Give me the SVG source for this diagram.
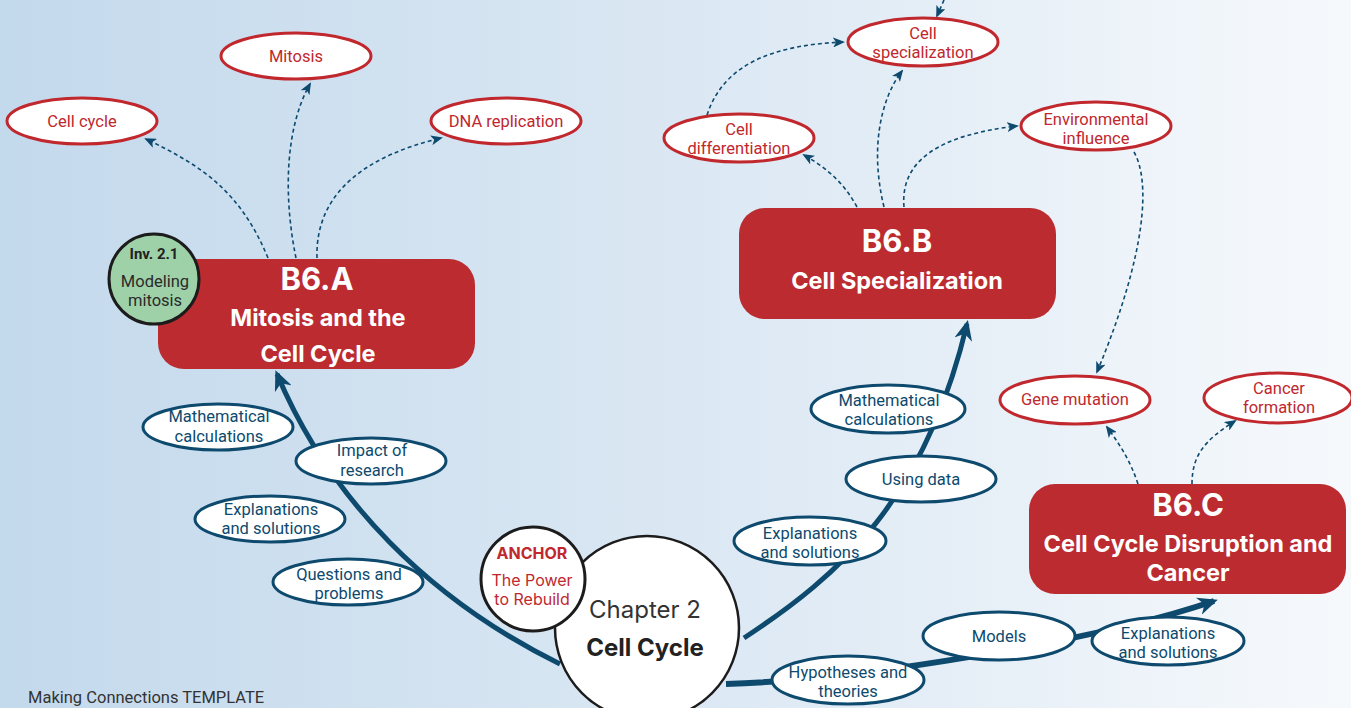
<svg xmlns="http://www.w3.org/2000/svg" width="1351" height="708" viewBox="0 0 1351 708">
  <defs>
    <linearGradient id="bg" x1="0" y1="0" x2="1" y2="0">
      <stop offset="0" stop-color="#c3d9ec"/>
      <stop offset="0.55" stop-color="#dde9f4"/>
      <stop offset="1" stop-color="#f6f9fc"/>
    </linearGradient>
    <marker id="bigHead" viewBox="0 0 20 18" refX="16" refY="9" markerWidth="20" markerHeight="18" markerUnits="userSpaceOnUse" orient="auto">
      <path d="M0,0 L20,9 L0,18 L6,9 z" fill="#0d4a6e"/>
    </marker>
    <marker id="smallHead" viewBox="0 0 12 10" refX="10" refY="5" markerWidth="12" markerHeight="10" markerUnits="userSpaceOnUse" orient="auto">
      <path d="M0,0 L12,5 L0,10 L3,5 z" fill="#0d4a6e"/>
    </marker>
    <style>
      .main { fill: none; stroke: #0d4a6e; stroke-width: 5; marker-end: url(#bigHead); }
      .dash { fill: none; stroke: #0d4a6e; stroke-width: 1.6; stroke-dasharray: 4 3; marker-end: url(#smallHead); }
      .topic { fill: #fff; stroke: #c0282e; stroke-width: 3; }
      .practice { fill: #fff; stroke: #0d4a6e; stroke-width: 3; }
      .box { fill: #bc2b30; }
      .t-red { font-family: Roboto, "Liberation Sans", sans-serif; font-size: 16.5px; fill: #c0282e; text-anchor: middle; }
      .t-blue { font-family: Roboto, "Liberation Sans", sans-serif; font-size: 16.5px; fill: #0d4a6e; text-anchor: middle; }
      .code { font-family: Inter, "Liberation Sans", sans-serif; font-size: 31px; font-weight: 700; fill: #fff; text-anchor: middle; }
      .title { font-family: Inter, "Liberation Sans", sans-serif; font-size: 23.5px; font-weight: 700; fill: #fff; text-anchor: middle; }
    </style>
  </defs>

  <rect width="1351" height="708" fill="url(#bg)"/>

  <!-- connectors -->
  <g id="connectors">
    <!-- chapter to unit arrows -->
    <path class="main" d="M 560 664 C 430 600, 330 500, 277 374"/>
    <path class="main" d="M 744 638 C 840 575, 925 500, 967 324"/>
    <path class="main" d="M 726 684 C 860 680, 1100 640, 1214 601" style="stroke-width:6"/>

    <!-- B6.A links -->
    <path class="dash" d="M 268 258 C 240 190, 200 165, 146 139"/>
    <path class="dash" d="M 296 258 C 284 200, 284 130, 310 84"/>
    <path class="dash" d="M 317 258 C 315 190, 370 155, 441 138"/>

    <!-- B6.B links -->
    <path class="dash" d="M 857 207 C 845 185, 830 170, 804 155"/>
    <path class="dash" d="M 884 207 C 870 150, 880 100, 902 71"/>
    <path class="dash" d="M 904 207 C 900 160, 940 135, 1017 126"/>
    <path class="dash" d="M 707 115 C 725 60, 780 45, 843 42"/>
    <path class="dash" d="M 944 0 L 937 16"/>
    <path class="dash" d="M 1134 152 C 1150 180, 1148 250, 1097 372"/>

    <!-- B6.C links -->
    <path class="dash" d="M 1138 484 C 1130 460, 1120 445, 1107 427"/>
    <path class="dash" d="M 1192 484 C 1192 455, 1205 440, 1235 421"/>
  </g>

  <!-- topic ellipses -->
  <g id="cell-cycle">
    <ellipse class="topic" cx="82" cy="121" rx="75" ry="23"/>
    <text class="t-red" x="82" y="127">Cell cycle</text>
  </g>
  <g id="mitosis">
    <ellipse class="topic" cx="296" cy="56" rx="75" ry="23"/>
    <text class="t-red" x="296" y="62">Mitosis</text>
  </g>
  <g id="dna-replication">
    <ellipse class="topic" cx="506" cy="121" rx="75" ry="23"/>
    <text class="t-red" x="506" y="127">DNA replication</text>
  </g>
  <g id="cell-specialization">
    <ellipse class="topic" cx="923" cy="42" rx="75" ry="24"/>
    <text class="t-red" x="923" y="39">Cell</text>
    <text class="t-red" x="923" y="58">specialization</text>
  </g>
  <g id="cell-differentiation">
    <ellipse class="topic" cx="739" cy="138" rx="75" ry="24"/>
    <text class="t-red" x="739" y="135">Cell</text>
    <text class="t-red" x="739" y="154">differentiation</text>
  </g>
  <g id="environmental-influence">
    <ellipse class="topic" cx="1096" cy="126" rx="75" ry="24"/>
    <text class="t-red" x="1096" y="125">Environmental</text>
    <text class="t-red" x="1096" y="144">influence</text>
  </g>
  <g id="gene-mutation">
    <ellipse class="topic" cx="1075" cy="400" rx="75" ry="24"/>
    <text class="t-red" x="1075" y="405">Gene mutation</text>
  </g>
  <g id="cancer-formation">
    <ellipse class="topic" cx="1278" cy="398" rx="74" ry="25"/>
    <text class="t-red" x="1279" y="394">Cancer</text>
    <text class="t-red" x="1279" y="413">formation</text>
  </g>

  <!-- practice ellipses -->
  <g id="math-calc-a">
    <ellipse class="practice" cx="218" cy="427" rx="75" ry="23"/>
    <text class="t-blue" x="219" y="422">Mathematical</text>
    <text class="t-blue" x="219" y="442">calculations</text>
  </g>
  <g id="impact-research">
    <ellipse class="practice" cx="371" cy="461" rx="75" ry="23"/>
    <text class="t-blue" x="372" y="456">Impact of</text>
    <text class="t-blue" x="372" y="476">research</text>
  </g>
  <g id="explanations-a">
    <ellipse class="practice" cx="270" cy="519" rx="75" ry="23"/>
    <text class="t-blue" x="271" y="515">Explanations</text>
    <text class="t-blue" x="271" y="534">and solutions</text>
  </g>
  <g id="questions-problems">
    <ellipse class="practice" cx="348" cy="582" rx="75" ry="23"/>
    <text class="t-blue" x="349" y="580">Questions and</text>
    <text class="t-blue" x="349" y="599">problems</text>
  </g>
  <g id="math-calc-b">
    <ellipse class="practice" cx="888" cy="409" rx="77" ry="24"/>
    <text class="t-blue" x="889" y="406">Mathematical</text>
    <text class="t-blue" x="889" y="425">calculations</text>
  </g>
  <g id="using-data">
    <ellipse class="practice" cx="921" cy="479" rx="75" ry="23"/>
    <text class="t-blue" x="921" y="485">Using data</text>
  </g>
  <g id="explanations-b">
    <ellipse class="practice" cx="810" cy="541" rx="76" ry="24"/>
    <text class="t-blue" x="810" y="539">Explanations</text>
    <text class="t-blue" x="810" y="558">and solutions</text>
  </g>
  <g id="models">
    <ellipse class="practice" cx="999" cy="636" rx="76" ry="24"/>
    <text class="t-blue" x="999" y="642">Models</text>
  </g>
  <g id="explanations-c">
    <ellipse class="practice" cx="1168" cy="641" rx="76" ry="24"/>
    <text class="t-blue" x="1168" y="639">Explanations</text>
    <text class="t-blue" x="1168" y="658">and solutions</text>
  </g>
  <g id="hypotheses-theories">
    <ellipse class="practice" cx="848" cy="680" rx="76" ry="24"/>
    <text class="t-blue" x="848" y="678">Hypotheses and</text>
    <text class="t-blue" x="848" y="697">theories</text>
  </g>

  <!-- unit boxes -->
  <g id="b6a">
    <rect class="box" x="158" y="259" width="317" height="110" rx="26"/>
    <text class="code" x="317" y="290">B6.A</text>
    <text class="title" x="318" y="326">Mitosis and the</text>
    <text class="title" x="318" y="362">Cell Cycle</text>
  </g>
  <g id="inv-2-1">
    <circle cx="154" cy="279" r="45" fill="#9fd1a9" stroke="#1c1c1c" stroke-width="3"/>
    <text x="154" y="259" font-family="Roboto, 'Liberation Sans', sans-serif" font-size="15" font-weight="700" fill="#222" text-anchor="middle">Inv. 2.1</text>
    <text x="155" y="287" font-family="Roboto, 'Liberation Sans', sans-serif" font-size="16.5" fill="#2a2a2a" text-anchor="middle">Modeling</text>
    <text x="155" y="306" font-family="Roboto, 'Liberation Sans', sans-serif" font-size="16.5" fill="#2a2a2a" text-anchor="middle">mitosis</text>
  </g>
  <g id="b6b">
    <rect class="box" x="739" y="208" width="317" height="111" rx="26"/>
    <text class="code" x="897" y="252">B6.B</text>
    <text class="title" x="897" y="289">Cell Specialization</text>
  </g>
  <g id="b6c">
    <rect class="box" x="1029" y="484" width="317" height="110" rx="26"/>
    <text class="code" x="1188" y="516">B6.C</text>
    <text class="title" x="1188" y="552">Cell Cycle Disruption and</text>
    <text class="title" x="1188" y="581">Cancer</text>
  </g>

  <!-- chapter hub -->
  <g id="chapter">
    <circle cx="647" cy="628" r="92" fill="#fff" stroke="#1c1c1c" stroke-width="2.5"/>
    <text x="645" y="618" font-family="Inter, 'Liberation Sans', sans-serif" font-size="24" fill="#333" text-anchor="middle">Chapter 2</text>
    <text x="645" y="656" font-family="Inter, 'Liberation Sans', sans-serif" font-size="24" font-weight="700" fill="#222" text-anchor="middle">Cell Cycle</text>
  </g>
  <g id="anchor">
    <circle cx="533" cy="579" r="52" fill="#fff" stroke="#1c1c1c" stroke-width="3"/>
    <text x="532" y="559" font-family="Inter, 'Liberation Sans', sans-serif" font-size="16" font-weight="700" fill="#c0282e" text-anchor="middle">ANCHOR</text>
    <text x="532" y="586" font-family="Inter, 'Liberation Sans', sans-serif" font-size="16" fill="#c0282e" text-anchor="middle">The Power</text>
    <text x="532" y="605" font-family="Inter, 'Liberation Sans', sans-serif" font-size="16" fill="#c0282e" text-anchor="middle">to Rebuild</text>
  </g>

  <text x="28" y="703" font-family="Roboto, 'Liberation Sans', sans-serif" font-size="16.5" fill="#333">Making Connections TEMPLATE</text>
</svg>
